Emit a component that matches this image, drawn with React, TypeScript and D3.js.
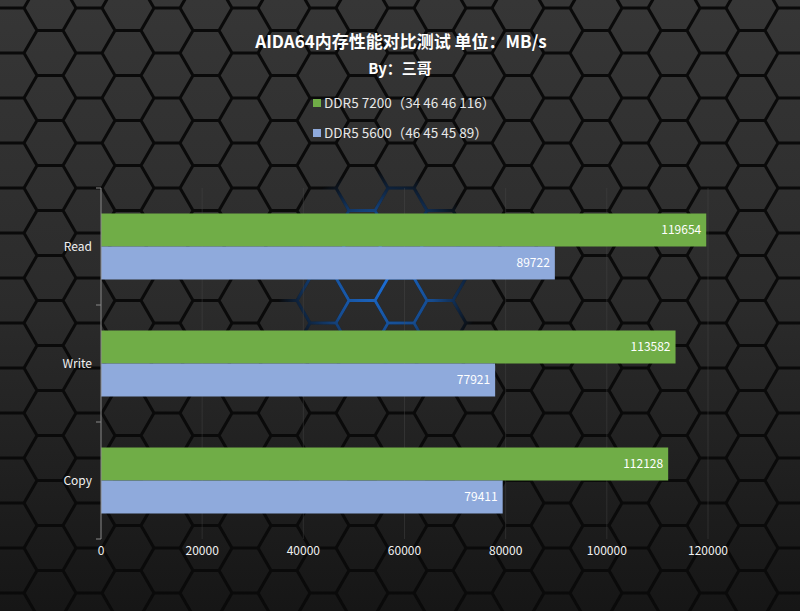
import React from "react";
import * as d3 from "d3";

const categories = ["Read", "Write", "Copy"];
const seriesNames = ["DDR5 7200（34 46 46 116）", "DDR5 5600（46 45 45 89）"];
const ddr7200 = [119654, 113582, 112128];
const ddr5600 = [89722, 77921, 79411];
const xTicks = [0, 20000, 40000, 60000, 80000, 100000, 120000];
const colors = ["#70ad47", "#8faadc"];

const W = 800;
const H = 611;
const FONT = "'Noto Sans CJK SC', 'Noto Sans', sans-serif";

function hexPath(cx: number, cy: number, s: number) {
  const pts: string[] = [];
  for (let k = 0; k < 6; k++) {
    const a = (Math.PI / 3) * k;
    pts.push(`${(cx + s * Math.cos(a)).toFixed(1)},${(cy + s * Math.sin(a)).toFixed(1)}`);
  }
  return "M" + pts.join("L") + "Z";
}

export default function App() {
  const x = d3.scaleLinear().domain([0, 120000]).range([101, 708]);
  const y = d3.scaleBand().domain(categories).range([188, 539]).paddingInner(0).paddingOuter(0);
  const y1 = d3.scaleBand().domain(["a", "b"]).range([0, y.bandwidth()]).paddingInner(0).paddingOuter(0.773);
  const series = [ddr7200, ddr5600];

  // background hex grid (decoration)
  const s = 26;
  const hexes: string[] = [];
  for (let i = -1; i < 22; i++) {
    for (let j = -1; j < 15; j++) {
      const cx = 50 + 39 * i;
      const cy = 53 + 45 * j + (Math.abs(i) % 2 === 1 ? -22.5 : 0);
      hexes.push(hexPath(cx, cy, s));
    }
  }
  const hexD = hexes.join("");

  return (
    <svg width={W} height={H} style={{ position: "absolute", left: 0, top: 0, display: "block" }} fontFamily={FONT}>
      <defs>
        <linearGradient id="bg" x1="0" y1="0" x2="0" y2="1">
          <stop offset="0" stopColor="#363636" />
          <stop offset="0.5" stopColor="#2b2b2b" />
          <stop offset="1" stopColor="#161616" />
        </linearGradient>
        <radialGradient id="glow" cx="380" cy="275" r="105" gradientUnits="userSpaceOnUse">
          <stop offset="0" stopColor="#fff" stopOpacity="0.95" />
          <stop offset="0.55" stopColor="#fff" stopOpacity="0.6" />
          <stop offset="1" stopColor="#fff" stopOpacity="0" />
        </radialGradient>
        <mask id="glowMask">
          <rect x="0" y="0" width={W} height={H} fill="url(#glow)" />
        </mask>
      </defs>
      <rect x="0" y="0" width={W} height={H} fill="url(#bg)" />
      <path d={hexD} fill="none" stroke="#0a0a0a" strokeWidth={3} />
      <path d={hexD} fill="none" stroke="#1f78e8" strokeWidth={3} mask="url(#glowMask)" />

      {/* title */}
      <text x={401} y={48} textAnchor="middle" fill="#ffffff" fontSize={17} fontWeight="bold">
        AIDA64内存性能对比测试 单位：MB/s
      </text>
      <text x={400} y={74} textAnchor="middle" fill="#ffffff" fontSize={15} fontWeight="bold">
        By：三哥
      </text>

      {/* legend */}
      {seriesNames.map((n, i) => (
        <g key={n} transform={`translate(313, ${103 + i * 30})`}>
          <rect x={0} y={-4} width={8} height={8} fill={colors[i]} />
          <text x={11} y={0} dy="0.35em" fill="#e8e8e8" fontSize={13.5}>
            {n}
          </text>
        </g>
      ))}

      {/* gridlines */}
      {xTicks.slice(1).map((t) => (
        <line key={t} x1={x(t)} x2={x(t)} y1={188} y2={539} stroke="#4a4a4a" strokeOpacity={0.4} strokeWidth={1} />
      ))}

      {/* bars */}
      {categories.map((c, ci) => (
        <g key={c} transform={`translate(0, ${y(c)})`}>
          {series.map((vals, si) => {
            const by = y1(si === 0 ? "a" : "b")!;
            const bh = y1.bandwidth();
            return (
              <g key={si}>
                <rect x={x(0)} y={by} width={x(vals[ci]) - x(0)} height={bh} fill={colors[si]} />
                <text x={x(vals[ci]) - 5} y={by + bh / 2} dy="0.35em" textAnchor="end" fill="#ffffff" fontSize={12}>
                  {vals[ci]}
                </text>
              </g>
            );
          })}
        </g>
      ))}

      {/* category axis */}
      <line x1={101} x2={101} y1={188} y2={539} stroke="#8a8a8a" strokeWidth={1} />
      {[...categories.map((c) => y(c)!), 539].map((v, i) => (
        <line key={i} x1={96} x2={101} y1={v} y2={v} stroke="#8a8a8a" strokeWidth={1} />
      ))}
      {categories.map((c) => (
        <text key={c} x={92} y={y(c)! + y.bandwidth() / 2} dy="0.35em" textAnchor="end" fill="#f0f0f0" fontSize={12}>
          {c}
        </text>
      ))}

      {/* value axis labels */}
      {xTicks.map((t) => (
        <text key={t} x={x(t)} y={551} dy="0.35em" textAnchor="middle" fill="#f0f0f0" fontSize={12}>
          {t}
        </text>
      ))}
    </svg>
  );
}
